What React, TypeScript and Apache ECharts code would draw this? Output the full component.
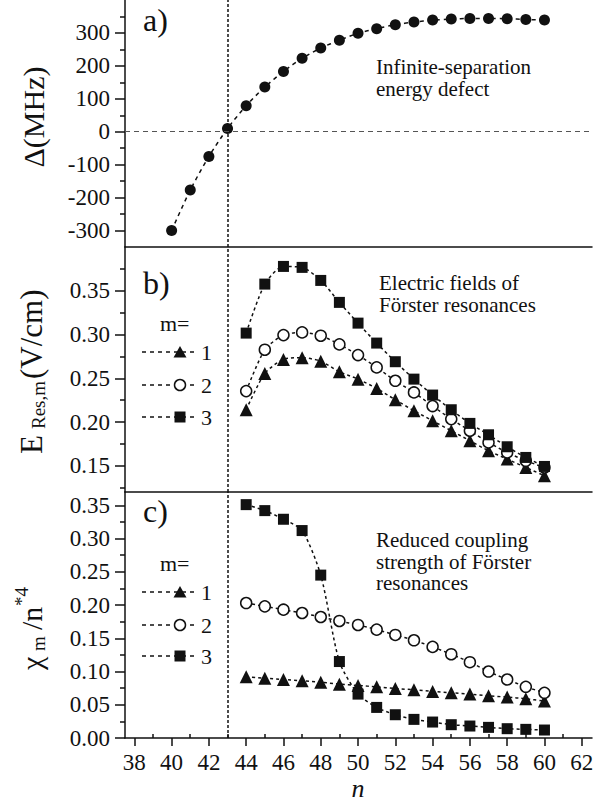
import React, { useEffect, useRef } from "react";
import * as echarts from "echarts";

// ---------- data ----------
const nA = [40, 41, 42, 43, 44, 45, 46, 47, 48, 49, 50, 51, 52, 53, 54, 55, 56, 57, 58, 59, 60];
const deltaMHz = [-300, -177, -75, 10, 79, 136, 183, 223, 254, 278, 299, 313, 325, 333, 339, 342, 344, 344, 343, 341, 339];

const nBC = [44, 45, 46, 47, 48, 49, 50, 51, 52, 53, 54, 55, 56, 57, 58, 59, 60];
const fieldM1 = [0.214, 0.2555, 0.2715, 0.2735, 0.2695, 0.2574, 0.249, 0.2384, 0.2254, 0.2129, 0.2014, 0.19, 0.1786, 0.1671, 0.1576, 0.148, 0.1386];
const fieldM2 = [0.2353, 0.2826, 0.2993, 0.3024, 0.2986, 0.2887, 0.2765, 0.2624, 0.2471, 0.2338, 0.2182, 0.2033, 0.19, 0.1767, 0.1652, 0.1557, 0.148];
const fieldM3 = [0.3016, 0.3576, 0.3778, 0.3767, 0.3618, 0.3367, 0.313, 0.2902, 0.2689, 0.249, 0.2308, 0.214, 0.1984, 0.1854, 0.1717, 0.1595, 0.1492];

const chiM1 = [0.092, 0.09, 0.088, 0.086, 0.084, 0.081, 0.079, 0.077, 0.0745, 0.0725, 0.07, 0.068, 0.066, 0.0635, 0.0615, 0.059, 0.0555];
const chiM2 = [0.203, 0.198, 0.193, 0.188, 0.182, 0.176, 0.17, 0.163, 0.155, 0.147, 0.137, 0.126, 0.114, 0.1, 0.088, 0.077, 0.068];
const chiM3 = [0.351, 0.342, 0.329, 0.312, 0.245, 0.115, 0.066, 0.046, 0.035, 0.028, 0.024, 0.02, 0.018, 0.016, 0.014, 0.013, 0.012];

const xMajorTicks = [38, 40, 42, 44, 46, 48, 50, 52, 54, 56, 58, 60, 62];
const xMinorTicks = [39, 41, 43, 45, 47, 49, 51, 53, 55, 57, 59, 61];
const yMajorA = [-300, -200, -100, 0, 100, 200, 300];
const yMinorA = [-250, -150, -50, 50, 150, 250, 350];
const yMajorB = [0.15, 0.2, 0.25, 0.3, 0.35];
const yMinorB = [0.125, 0.175, 0.225, 0.275, 0.325, 0.375];
const yMajorC = [0, 0.05, 0.1, 0.15, 0.2, 0.25, 0.3, 0.35];
const yMinorC = [0.025, 0.075, 0.125, 0.175, 0.225, 0.275, 0.325];

const resonanceN = 43;
const legendLabels = ["1", "2", "3"];

const FONT = "Liberation Serif, Times New Roman, serif";
const INK = "#111";

const pairs = (xs: number[], ys: number[]) => xs.map((x, i) => [x, ys[i]]);

export default function App() {
  const ref = useRef<HTMLDivElement>(null);

  useEffect(() => {
    if (!ref.current) return;
    const chart = echarts.init(ref.current, undefined, { renderer: "svg" });

    const gridLeft = 125;
    const gridRight = 13;
    const grids = [
      { left: gridLeft, right: gridRight, top: 0, height: 247 },
      { left: gridLeft, right: gridRight, top: 247, height: 245 },
      { left: gridLeft, right: gridRight, top: 492, height: 246 },
    ];

    const axisLine = { show: true, onZero: false, lineStyle: { color: INK, width: 1.5 } };

    const xAxes: any[] = [];
    [0, 1].forEach((g) =>
      xAxes.push({
        type: "value", gridIndex: g, min: 37.5, max: 62.55,
        axisLine, axisTick: { show: false }, axisLabel: { show: false }, splitLine: { show: false },
      })
    );
    xAxes.push({
      type: "value", gridIndex: 2, min: 37.5, max: 62.55,
      axisLine,
      axisTick: { show: true, inside: false, length: 8, lineStyle: { color: INK, width: 1.5 }, customValues: xMajorTicks },
      axisLabel: { show: true, margin: 13, color: INK, fontFamily: FONT, fontSize: 23, customValues: xMajorTicks },
      splitLine: { show: false },
    });
    xAxes.push({
      type: "value", gridIndex: 2, min: 37.5, max: 62.55,
      axisLine: { show: false },
      axisTick: { show: true, inside: false, length: 4, lineStyle: { color: INK, width: 1.5 }, customValues: xMinorTicks },
      axisLabel: { show: false },
      splitLine: { show: false },
    });

    const yPair = (g: number, min: number, max: number, major: number[], minor: number[], fmt: (v: number) => string) => [
      {
        type: "value", gridIndex: g, min, max, position: "left",
        axisLine,
        axisTick: { show: true, inside: false, length: 10, lineStyle: { color: INK, width: 1.5 }, customValues: major },
        axisLabel: { show: true, margin: 15, color: INK, fontFamily: FONT, fontSize: 23, customValues: major, formatter: fmt },
        splitLine: { show: false },
      },
      {
        type: "value", gridIndex: g, min, max, position: "left", offset: 0,
        axisLine: { show: false },
        axisTick: { show: true, inside: false, length: 5, lineStyle: { color: INK, width: 1.5 }, customValues: minor },
        axisLabel: { show: false },
        splitLine: { show: false },
      },
    ];
    const yAxes = [
      ...yPair(0, -350, 400, yMajorA, yMinorA, (v) => String(Math.round(v))),
      ...yPair(1, 0.12, 0.4, yMajorB, yMinorB, (v) => v.toFixed(2)),
      ...yPair(2, 0, 0.37, yMajorC, yMinorC, (v) => v.toFixed(2)),
    ];

    const vLine = {
      silent: true, symbol: "none", label: { show: false },
      data: [{ xAxis: resonanceN, lineStyle: { color: INK, width: 1.5, type: [3, 2] } }],
    };

    const lineStyle = { color: INK, width: 1.5, type: [3, 3] };
    const mkSeries = (name: string, xi: number, yi: number, data: number[][], kind: string, extra: any = {}) => {
      const base: any = {
        name, type: "line", xAxisIndex: xi, yAxisIndex: yi, data,
        smooth: 0.25,
        lineStyle,
        z: 3,
        ...extra,
      };
      if (kind === "tri") {
        base.symbol = "triangle"; base.symbolSize = 13;
        base.itemStyle = { color: INK };
      } else if (kind === "circ") {
        base.symbol = "circle"; base.symbolSize = 11;
        base.itemStyle = { color: "#fff", borderColor: INK, borderWidth: 1.5 };
      } else if (kind === "sq") {
        base.symbol = "rect"; base.symbolSize = 11;
        base.itemStyle = { color: INK };
      } else {
        base.symbol = "circle"; base.symbolSize = 11;
        base.itemStyle = { color: INK };
      }
      return base;
    };

    const series = [
      mkSeries("delta", 0, 0, pairs(nA, deltaMHz), "dot", {
        lineStyle: { color: INK, width: 1.5, type: [4, 4] },
        markLine: {
          silent: true, symbol: "none", label: { show: false },
          data: [
            { xAxis: resonanceN, lineStyle: { color: INK, width: 1.5, type: [3, 2] } },
            { yAxis: 0, lineStyle: { color: "#555", width: 1.2, type: [5, 4] } },
          ],
        },
      }),
      mkSeries("E1", 1, 2, pairs(nBC, fieldM1), "tri", { markLine: vLine }),
      mkSeries("E2", 1, 2, pairs(nBC, fieldM2), "circ"),
      mkSeries("E3", 1, 2, pairs(nBC, fieldM3), "sq"),
      mkSeries("C1", 2, 4, pairs(nBC, chiM1), "tri", { markLine: vLine }),
      mkSeries("C2", 2, 4, pairs(nBC, chiM2), "circ"),
      mkSeries("C3", 2, 4, pairs(nBC, chiM3), "sq"),
    ];

    const txt = (text: string, x: number, y: number, size: number, extra: any = {}) => ({
      type: "text", x, y, z: 10,
      style: { text, fill: INK, fontFamily: FONT, fontSize: size, align: "left", verticalAlign: "middle", ...extra },
    });

    const legend = (yM: number, ys: number[]) => {
      const els: any[] = [txt("m=", 160, yM, 22)];
      ys.forEach((y, i) => {
        els.push({ type: "line", z: 10, shape: { x1: 142, y1: y, x2: 198, y2: y }, style: { stroke: INK, lineWidth: 1.5, lineDash: [4, 4] } });
        if (i === 0) {
          els.push({ type: "polygon", z: 11, shape: { points: [[173.5, y + 5.5], [186.5, y + 5.5], [180, y - 6]] }, style: { fill: INK } });
        } else if (i === 1) {
          els.push({ type: "circle", z: 11, shape: { cx: 180, cy: y, r: 5.5 }, style: { fill: "#fff", stroke: INK, lineWidth: 1.5 } });
        } else {
          els.push({ type: "rect", z: 11, shape: { x: 174.5, y: y - 5.5, width: 11, height: 11 }, style: { fill: INK } });
        }
        els.push(txt(legendLabels[i], 201, y, 22));
      });
      return els;
    };

    const rotGroup = (x: number, y: number, children: any[]) => ({
      type: "group", x, y, rotation: Math.PI / 2, z: 10, children,
    });

    const graphic = [
      // panel letters
      txt("a)", 143, 20, 32),
      txt("b)", 143, 283, 32),
      txt("c)", 143, 511, 32),
      // annotations
      { type: "text", x: 376, y: 56, z: 10, style: { text: "Infinite-separation\nenergy defect", fill: INK, fontFamily: FONT, fontSize: 21, lineHeight: 22, align: "left", verticalAlign: "top" } },
      { type: "text", x: 379, y: 272.5, z: 10, style: { text: "Electric fields of\nFörster resonances", fill: INK, fontFamily: FONT, fontSize: 21, lineHeight: 21.5, align: "left", verticalAlign: "top" } },
      { type: "text", x: 376, y: 529.5, z: 10, style: { text: "Reduced coupling\nstrength of Förster\nresonances", fill: INK, fontFamily: FONT, fontSize: 21, lineHeight: 21.5, align: "left", verticalAlign: "top" } },
      // legends
      ...legend(323, [352, 385, 417]),
      ...legend(563, [592, 625, 656]),
      // y axis names
      { type: "text", x: 33, y: 117, rotation: Math.PI / 2, z: 10, style: { text: "Δ(MHz)", fill: INK, fontFamily: FONT, fontSize: 30, align: "center", verticalAlign: "middle" } },
      rotGroup(31, 454, [
        { type: "text", x: 0, y: 0, style: { text: "E", fill: INK, fontFamily: FONT, fontSize: 31, align: "left", verticalAlign: "middle" } },
        { type: "text", x: 25, y: 7, style: { text: "Res,m", fill: INK, fontFamily: FONT, fontSize: 19, align: "left", verticalAlign: "middle" } },
        { type: "text", x: 75, y: 0, style: { text: "(V/cm)", fill: INK, fontFamily: FONT, fontSize: 31, align: "left", verticalAlign: "middle" } },
      ]),
      rotGroup(31, 670, [
        { type: "text", x: 0, y: 0, style: { text: "χ", fill: INK, fontFamily: FONT, fontSize: 30, align: "left", verticalAlign: "middle" } },
        { type: "text", x: 19, y: 7, style: { text: "m", fill: INK, fontFamily: FONT, fontSize: 19, align: "left", verticalAlign: "middle" } },
        { type: "text", x: 40, y: 0, style: { text: "/n", fill: INK, fontFamily: FONT, fontSize: 30, align: "left", verticalAlign: "middle" } },
        { type: "text", x: 64, y: -10, style: { text: "*4", fill: INK, fontFamily: FONT, fontSize: 19, align: "left", verticalAlign: "middle" } },
      ]),
      // x axis name
      { type: "text", x: 358, y: 788, z: 10, style: { text: "n", fill: INK, fontFamily: FONT, fontSize: 26, fontStyle: "italic", align: "center", verticalAlign: "middle" } },
    ];

    chart.setOption({
      animation: false,
      backgroundColor: "#fff",
      grid: grids,
      xAxis: xAxes,
      yAxis: yAxes,
      series,
      graphic,
    });

    return () => chart.dispose();
  }, []);

  return <div ref={ref} style={{ position: "absolute", left: 0, top: 0, width: 605, height: 804 }} />;
}
